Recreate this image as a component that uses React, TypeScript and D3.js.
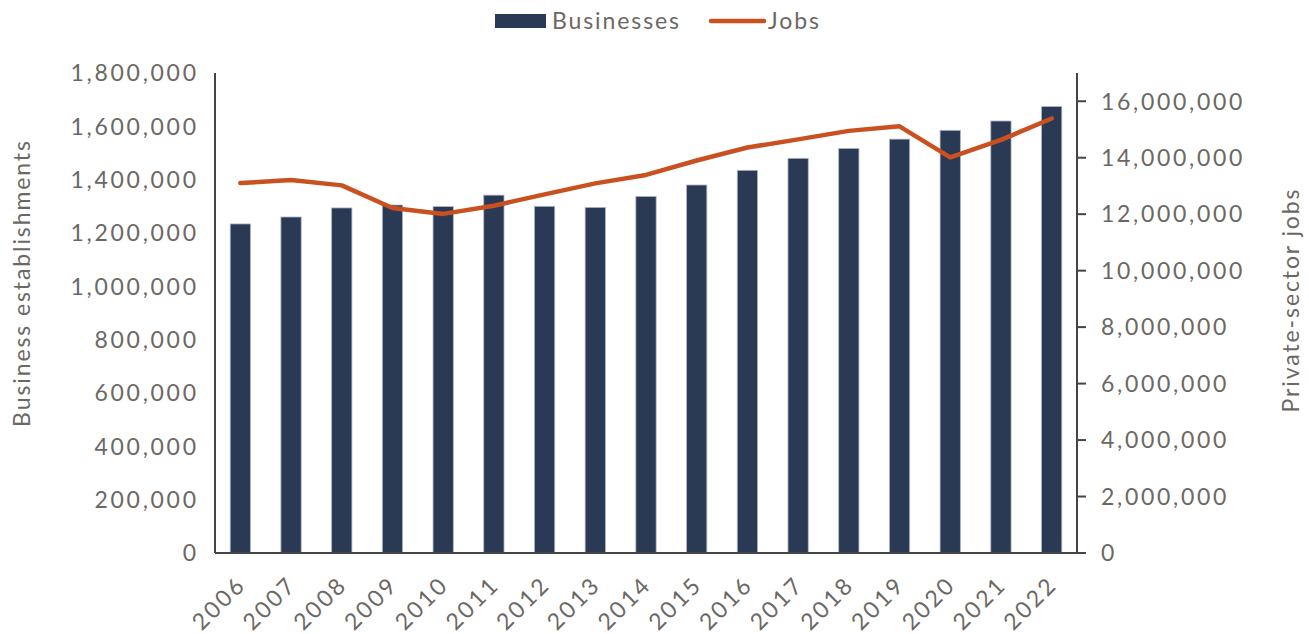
import React from "react";
import * as d3 from "d3";

const years = ["2006","2007","2008","2009","2010","2011","2012","2013","2014","2015","2016","2017","2018","2019","2020","2021","2022"];
const businesses = [1234000,1260000,1294000,1305000,1299000,1342000,1300000,1296000,1337000,1380000,1435000,1480000,1517000,1552000,1585000,1620000,1674000];
const jobs = [13100000,13210000,13020000,12220000,12010000,12300000,12700000,13090000,13390000,13900000,14360000,14650000,14950000,15110000,14010000,14630000,15390000];
const leftTicks = [0,200000,400000,600000,800000,1000000,1200000,1400000,1600000,1800000];
const rightTicks = [0,2000000,4000000,6000000,8000000,10000000,12000000,14000000,16000000];

const W = 1309, H = 634;
const M = { left: 215, right: 1077, top: 73, bottom: 553 };
const FONT = "Lato, 'Open Sans', sans-serif";
const TEXT = "#6b6864";
const BAR = "#2a3a54";
const LINE = "#c9511f";
const AXIS = "#454545";
const NUM_LS = 2.7;
const WORD_LS = 1.9;

export default function App() {
  const x = d3.scaleBand().domain(years).range([M.left, M.right]).paddingInner(0.6).paddingOuter(0.3);
  const yL = d3.scaleLinear().domain([0, 1800000]).range([M.bottom, M.top]);
  const yR = d3.scaleLinear().domain([0, 17000000]).range([M.bottom, M.top]);
  const fmt = d3.format(",");
  const cx = (y: string) => (x(y) as number) + x.bandwidth() / 2;
  const line = d3.line<number>().x((_, i) => cx(years[i])).y((d) => yR(d));

  return (
    <svg width={W} height={H} style={{ position: "absolute", left: 0, top: 0, background: "#fff" }} fontFamily={FONT}>
      {/* legend */}
      <rect x={495} y={14} width={51} height={14} fill={BAR} />
      <text x={552} y={28.5} fontSize={23} fill={TEXT} letterSpacing={WORD_LS}>Businesses</text>
      <line x1={711} x2={764} y1={21} y2={21} stroke={LINE} strokeWidth={4.5} strokeLinecap="round" />
      <text x={768} y={28.5} fontSize={23} fill={TEXT} letterSpacing={WORD_LS}>Jobs</text>

      {/* bars */}
      {businesses.map((v, i) => (
        <rect key={years[i]} x={x(years[i])} y={yL(v)} width={x.bandwidth()} height={yL(0) - yL(v)}
          fill={BAR} stroke="#aeb6c3" strokeWidth={0.8} />
      ))}

      {/* jobs line */}
      <path d={line(jobs) as string} fill="none" stroke={LINE} strokeWidth={4.5} strokeLinecap="round" strokeLinejoin="round" />

      {/* axes */}
      <line x1={M.left} x2={M.left} y1={M.top} y2={M.bottom} stroke={AXIS} strokeWidth={2} />
      <line x1={M.left} x2={M.right} y1={M.bottom} y2={M.bottom} stroke={AXIS} strokeWidth={2} />
      <line x1={M.right} x2={M.right} y1={M.top} y2={M.bottom} stroke={AXIS} strokeWidth={2} />
      {rightTicks.map((t) => (
        <line key={t} x1={M.right} x2={M.right + 9} y1={yR(t)} y2={yR(t)} stroke={AXIS} strokeWidth={2} />
      ))}

      {leftTicks.map((t) => (
        <text key={t} x={196 + NUM_LS} y={yL(t)} dy="0.36em" textAnchor="end" fontSize={23} fill={TEXT} letterSpacing={NUM_LS}>{fmt(t)}</text>
      ))}
      {rightTicks.map((t) => (
        <text key={t} x={1101} y={yR(t)} dy="0.36em" textAnchor="start" fontSize={23} fill={TEXT} letterSpacing={NUM_LS}>{fmt(t)}</text>
      ))}
      {years.map((yr) => (
        <text key={yr} transform={`translate(${cx(yr) + 5 + NUM_LS * 0.7},${588 - NUM_LS * 0.7}) rotate(-45)`} textAnchor="end" fontSize={23} fill={TEXT} letterSpacing={NUM_LS}>{yr}</text>
      ))}

      <text transform={`translate(30,283) rotate(-90)`} textAnchor="middle" fontSize={23} fill={TEXT} letterSpacing={WORD_LS}>Business establishments</text>
      <text transform={`translate(1299,300) rotate(-90)`} textAnchor="middle" fontSize={23} fill={TEXT} letterSpacing={WORD_LS}>Private-sector jobs</text>
    </svg>
  );
}
